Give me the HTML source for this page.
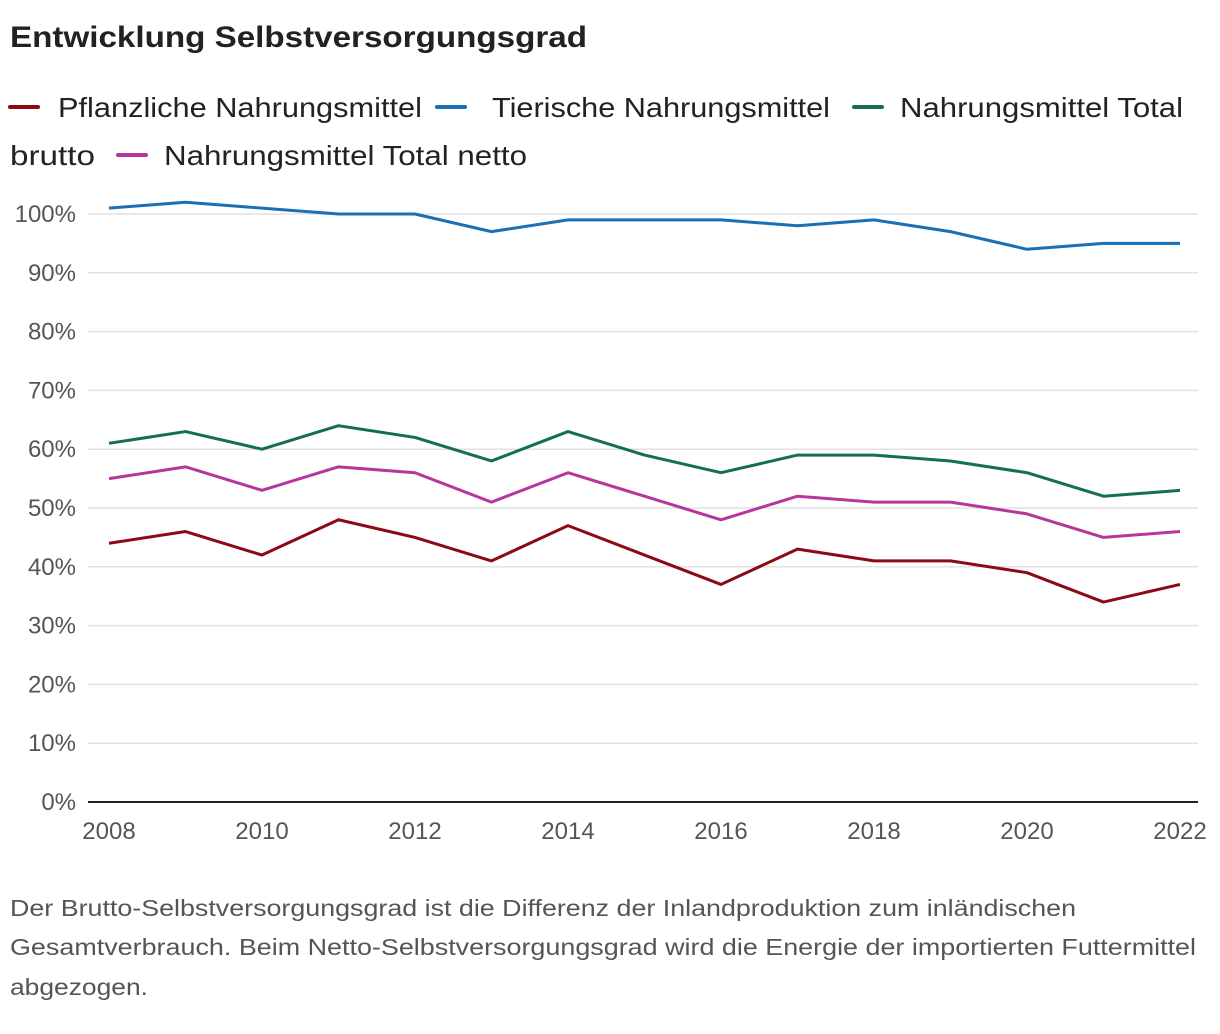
<!DOCTYPE html>
<html><head><meta charset="utf-8"><style>body{margin:0;background:#fff}svg{display:block;font-family:"Liberation Sans",sans-serif}</style></head>
<body>
<svg width="1220" height="1034" id="c">
<text x="10" y="47" font-size="30" font-weight="bold" fill="#222" textLength="577" lengthAdjust="spacingAndGlyphs">Entwicklung Selbstversorgungsgrad</text>
<g font-size="28" fill="#222">
<line x1="10" x2="38" y1="107" y2="107" stroke="#8b0a14" stroke-width="4" stroke-linecap="round"/>
<text x="58" y="117" textLength="364" lengthAdjust="spacingAndGlyphs">Pflanzliche Nahrungsmittel</text>
<line x1="437" x2="465" y1="107" y2="107" stroke="#1a6fb5" stroke-width="4" stroke-linecap="round"/>
<text x="492" y="117" textLength="338" lengthAdjust="spacingAndGlyphs">Tierische Nahrungsmittel</text>
<line x1="854" x2="882" y1="107" y2="107" stroke="#12704a" stroke-width="4" stroke-linecap="round"/>
<text x="900" y="117" textLength="283" lengthAdjust="spacingAndGlyphs">Nahrungsmittel Total</text>
<text x="10" y="165" textLength="85" lengthAdjust="spacingAndGlyphs">brutto</text>
<line x1="118" x2="146" y1="155" y2="155" stroke="#b8369b" stroke-width="4" stroke-linecap="round"/>
<text x="164" y="165" textLength="363" lengthAdjust="spacingAndGlyphs">Nahrungsmittel Total netto</text>
</g>
<g id="grid"></g><g id="axes"></g><g id="lines"></g>
<g font-size="23" fill="#555">
<text x="10" y="916" textLength="1066" lengthAdjust="spacingAndGlyphs">Der Brutto-Selbstversorgungsgrad ist die Differenz der Inlandproduktion zum inländischen</text>
<text x="10" y="955" textLength="1186" lengthAdjust="spacingAndGlyphs">Gesamtverbrauch. Beim Netto-Selbstversorgungsgrad wird die Energie der importierten Futtermittel</text>
<text x="10" y="995" textLength="138" lengthAdjust="spacingAndGlyphs">abgezogen.</text>
</g>
</svg>
<script>
const years=[2008,2009,2010,2011,2012,2013,2014,2015,2016,2017,2018,2019,2020,2021,2022];
const pflanzlich=[44,46,42,48,45,41,47,42,37,43,41,41,39,34,37];
const tierisch=[101,102,101,100,100,97,99,99,99,98,99,97,94,95,95];
const totalBrutto=[61,63,60,64,62,58,63,59,56,59,59,58,56,52,53];
const totalNetto=[55,57,53,57,56,51,56,52,48,52,51,51,49,45,46];
const yTicks=[0,10,20,30,40,50,60,70,80,90,100];
const xTicks=[2008,2010,2012,2014,2016,2018,2020,2022];
const NS='http://www.w3.org/2000/svg';
const x=v=>109+(v-2008)*(1180-109)/14;
const y=v=>802-v*5.88;
function mk(t,a,p){const e=document.createElementNS(NS,t);for(const k in a)e.setAttribute(k,a[k]);p.appendChild(e);return e;}
const g=document.getElementById('grid'),ax=document.getElementById('axes'),ln=document.getElementById('lines');
yTicks.forEach(t=>{
 const l=mk('line',{x1:88,x2:1198,y1:y(t),y2:y(t),stroke:t?'#e2e2e2':'#222','stroke-width':t?1.5:2},g);
 
 
 const tx=mk('text',{x:76,y:y(t)+8,'text-anchor':'end','font-size':24,fill:'#555'},ax);
 tx.textContent=t+'%';
 
 
});
xTicks.forEach(t=>{
 const tx=mk('text',{x:x(t),y:839,'text-anchor':'middle','font-size':24,fill:'#555'},ax);
 tx.textContent=t;
 
 
});
[[pflanzlich,'#8b0a14','line-pflanzlich'],[tierisch,'#1a6fb5','line-tierisch'],[totalBrutto,'#12704a','line-total-brutto'],[totalNetto,'#b8369b','line-total-netto']].forEach(([d,c,n])=>{
 const p=mk('polyline',{points:d.map((v,i)=>x(years[i])+','+y(v)).join(' '),fill:'none',stroke:c,'stroke-width':3,'stroke-linejoin':'round'},ln);
 
 
});
</script>
</body></html>
